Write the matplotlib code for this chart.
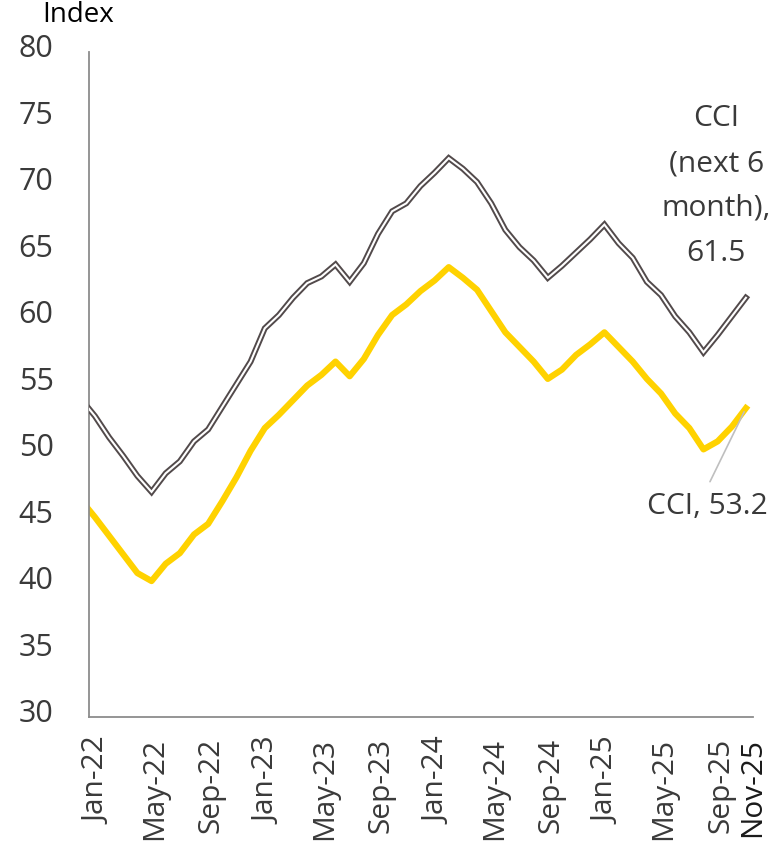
import matplotlib
matplotlib.use("Agg")
import matplotlib.pyplot as plt
import matplotlib.transforms as mtransforms
import pandas as pd
import numpy as np

# Month labels (Dec-21 is the clipped lead-in point at the left edge)
months = [d.strftime("%b-%y") for d in pd.date_range("2021-12-01", "2025-11-01", freq="MS")]

cci_next6 = [53.9,
             52.6, 51.0, 49.6, 48.1, 46.9, 48.3, 49.2, 50.7, 51.6, 53.3, 55.0, 56.7,
             59.2, 60.2, 61.5, 62.6, 63.1, 64.0, 62.7, 64.1, 66.3, 68.0, 68.6, 69.9,
             70.9, 72.0, 71.2, 70.2, 68.6, 66.6, 65.3, 64.3, 63.0, 63.9, 64.9, 65.9,
             67.0, 65.6, 64.5, 62.7, 61.7, 60.1, 58.9, 57.4, 58.7, 60.1, 61.5]

cci = [46.3,
       45.0, 43.6, 42.2, 40.8, 40.2, 41.5, 42.3, 43.7, 44.5, 46.2, 48.0, 50.0,
       51.7, 52.7, 53.8, 54.9, 55.7, 56.7, 55.6, 56.9, 58.7, 60.2, 61.0, 62.0,
       62.8, 63.8, 63.0, 62.1, 60.5, 58.9, 57.8, 56.7, 55.4, 56.1, 57.2, 58.0,
       58.9, 57.8, 56.7, 55.4, 54.3, 52.8, 51.7, 50.1, 50.7, 51.8, 53.2]

tick_labels = ["Jan-22", "May-22", "Sep-22", "Jan-23", "May-23", "Sep-23", "Jan-24",
               "May-24", "Sep-24", "Jan-25", "May-25", "Sep-25", "Nov-25"]
y_ticks = [30, 35, 40, 45, 50, 55, 60, 65, 70, 75, 80]

x = np.arange(len(months)) - 1  # Jan-22 -> 0

plt.rcParams['font.family'] = ['Open Sans', 'DejaVu Sans']

fig = plt.figure(figsize=(7.73, 8.46), dpi=100)
ax = fig.add_axes([89/773, 1 - 716.7/846, (753-89)/773, (716.7-51.7)/846])

# Dark double line (outline look)
ax.plot(x, cci_next6, color='#524a4b', lw=4.3, solid_joinstyle='miter', zorder=3)
ax.plot(x, cci_next6, color='white', lw=1.5, solid_joinstyle='miter', zorder=4)
# Yellow line
ax.plot(x, cci, color='#FFD200', lw=4.5, solid_joinstyle='round', zorder=2)

ax.set_xlim(-0.42, 46.5)
ax.set_ylim(30, 80)

ax.set_yticks(y_ticks)
ax.set_yticklabels([str(v) for v in y_ticks])
xt = [months.index(l) - 1 for l in tick_labels]
ax.set_xticks(xt)
ax.set_xticklabels(tick_labels, rotation=90)

ax.tick_params(axis='y', length=0, pad=25.5, labelsize=22, labelcolor='#3a3a3a')
ax.tick_params(axis='x', length=0, pad=15, labelsize=21.5, labelcolor='#3a3a3a')

xlabels = ax.get_xticklabels()
xlabels[-1].set_color('#1a1a1a')

for s in ['top', 'right']:
    ax.spines[s].set_visible(False)
for s in ['left', 'bottom']:
    ax.spines[s].set_color('#8c8c8c')
    ax.spines[s].set_linewidth(1.3)

off = mtransforms.ScaledTranslation(0, 6/100, fig.dpi_scale_trans)
for t in ax.yaxis.get_major_ticks():
    t.label1.set_transform(t.label1.get_transform() + off)
# nudge x labels slightly right; the crowded last one a bit more
xticks = ax.xaxis.get_major_ticks()
for i, t in enumerate(xticks):
    dx = 7 if i == len(xticks) - 1 else 3
    t.label1.set_transform(t.label1.get_transform() +
                           mtransforms.ScaledTranslation(dx/100, 0, fig.dpi_scale_trans))

fig.text(42.7/773, 1 - 15.5/846, "Index", fontsize=20, color='black', va='center', ha='left')

# Annotations
ax.text(43.9, 69.9, "CCI\n(next 6\nmonth),\n61.5", ha='center', va='center',
        fontsize=21.5, color='#3a3a3a', linespacing=1.72)
ax.text(47.56, 45.8, "CCI, 53.2", ha='right', va='center', fontsize=21.5,
        color='#3a3a3a', clip_on=False)
ax.annotate("", xy=(x[-1], cci[-1]), xytext=(43.46, 47.67),
            arrowprops=dict(arrowstyle='-', color='#bfbfbf', lw=1.2,
                            shrinkA=0, shrinkB=3), annotation_clip=False)

fig.savefig("out.png", dpi=100)
